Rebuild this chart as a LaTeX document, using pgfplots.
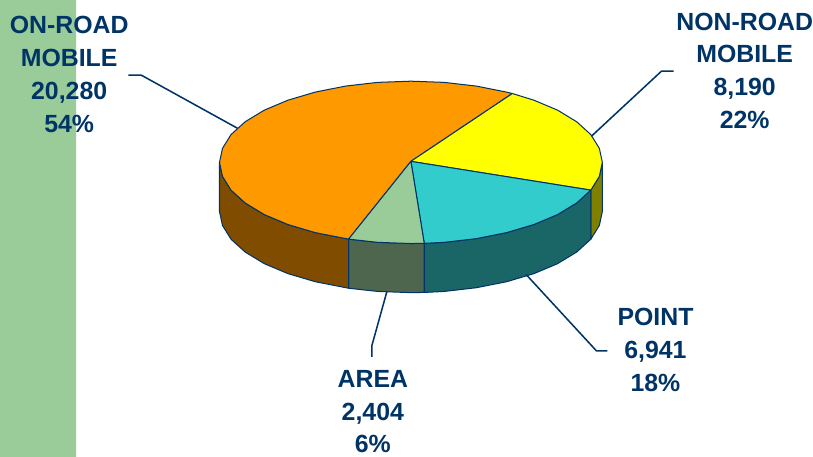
\documentclass[border=0pt]{standalone}
\usepackage{fontspec}
\setmainfont{Liberation Sans}
\usepackage{pgfplots}
\pgfplotsset{compat=1.18}
\definecolor{navy}{RGB}{0,51,102}
\definecolor{band}{RGB}{153,204,153}
\definecolor{orangetop}{RGB}{255,153,0}
\definecolor{orangeside}{RGB}{128,77,0}
\definecolor{yellowtop}{RGB}{255,255,0}
\definecolor{yellowside}{RGB}{128,128,0}
\definecolor{tealtop}{RGB}{51,204,204}
\definecolor{tealside}{RGB}{26,102,102}
\definecolor{greentop}{RGB}{153,204,153}
\definecolor{greenside}{RGB}{77,102,77}
\tikzset{
    lab/.style={anchor=base,font=\fontsize{24.4}{28}\selectfont\bfseries,text=navy,inner sep=0pt},
    slice/.style={draw=navy,line width=1pt,line join=round},
    leader/.style={draw=navy,line width=1.5pt},
}
\begin{document}
\begin{tikzpicture}
\begin{axis}[
    scale only axis,
    width=797bp,
    height=447bp,
    xmin=0, xmax=813,
    ymin=0, ymax=456,
    y dir=reverse,
    hide axis,
    clip=true,
]
% left band
\addplot[fill=band,draw=none] coordinates {(0,0) (76,0) (76,456) (0,456) (0,0)};

% side walls
\addplot[slice,fill=yellowside] coordinates {(601,162) (598,176) (589.5,189.7) (589.5,238.7) (598,225) (601,211) (601,162)};
\addplot[slice,fill=tealside] coordinates {(589.5,189.7) (575.4,202.5) (556.3,214.1) (532.8,224) (505.5,232.1) (475.3,238.1) (443.2,241.8) (423.3,242.8)
    (423.3,291.8) (443.2,290.8) (475.3,287.1) (505.5,281.1) (532.8,273) (556.3,263.1) (575.4,251.5) (589.5,238.7) (589.5,189.7)};
\addplot[slice,fill=greenside] coordinates {(423.3,242.8) (410,243) (376.8,241.8) (347.8,238.6)
    (347.8,287.6) (376.8,290.8) (410,292) (423.3,291.8) (423.3,242.8)};
\addplot[slice,fill=orangeside] coordinates {(347.8,238.6) (314.5,232.1) (287.2,224) (263.7,214.1) (244.6,202.5) (230.5,189.7) (222,176) (219,162)
    (219,211) (222,225) (230.5,238.7) (244.6,251.5) (263.7,263.1) (287.2,273) (314.5,281.1) (347.8,287.6) (347.8,238.6)};

% top faces
\addplot[slice,fill=orangetop] coordinates {(410,161) (347.8,238.6) (314.5,232.1) (287.2,224) (263.7,214.1) (244.6,202.5) (230.5,189.7) (222,176) (219,162)
    (222,148) (230.5,134.3) (244.6,121.5) (263.7,109.9) (287.2,100) (314.5,91.9) (344.7,85.9) (376.8,82.2) (410,81) (443.2,82.2) (475.3,85.9) (505.5,91.9) (511.2,93.3) (410,161)};
\addplot[slice,fill=yellowtop] coordinates {(410,161) (511.2,93.3) (532.8,100) (556.3,109.9) (575.4,121.5) (589.5,134.3) (598,148) (601,162) (598,176) (589.5,189.7) (410,161)};
\addplot[slice,fill=tealtop] coordinates {(410,161) (589.5,189.7) (575.4,202.5) (556.3,214.1) (532.8,224) (505.5,232.1) (475.3,238.1) (443.2,241.8) (423.3,242.8) (410,161)};
\addplot[slice,fill=greentop] coordinates {(410,161) (423.3,242.8) (410,243) (376.8,241.8) (347.8,238.6) (410,161)};

% leader lines
\addplot[leader] coordinates {(128,75) (141,75) (237,128)};
\addplot[leader] coordinates {(672,71) (660,71) (590,136)};
\addplot[leader] coordinates {(606,350) (595,350) (525,274)};
\addplot[leader] coordinates {(371,356) (371,345) (386,291)};

% labels
\node[lab] at (axis cs:69,33) {ON-ROAD};
\node[lab] at (axis cs:69,66) {MOBILE};
\node[lab] at (axis cs:69,99) {20,280};
\node[lab] at (axis cs:69,132) {54\%};
\node[lab] at (axis cs:743,30) {NON-ROAD};
\node[lab] at (axis cs:743,62) {MOBILE};
\node[lab] at (axis cs:743,95) {8,190};
\node[lab] at (axis cs:743,128) {22\%};
\node[lab] at (axis cs:654,325) {POINT};
\node[lab] at (axis cs:654,358) {6,941};
\node[lab] at (axis cs:654,391) {18\%};
\node[lab] at (axis cs:372,387) {AREA};
\node[lab] at (axis cs:372,420) {2,404};
\node[lab] at (axis cs:372,452) {6\%};
\end{axis}
\end{tikzpicture}
\end{document}
